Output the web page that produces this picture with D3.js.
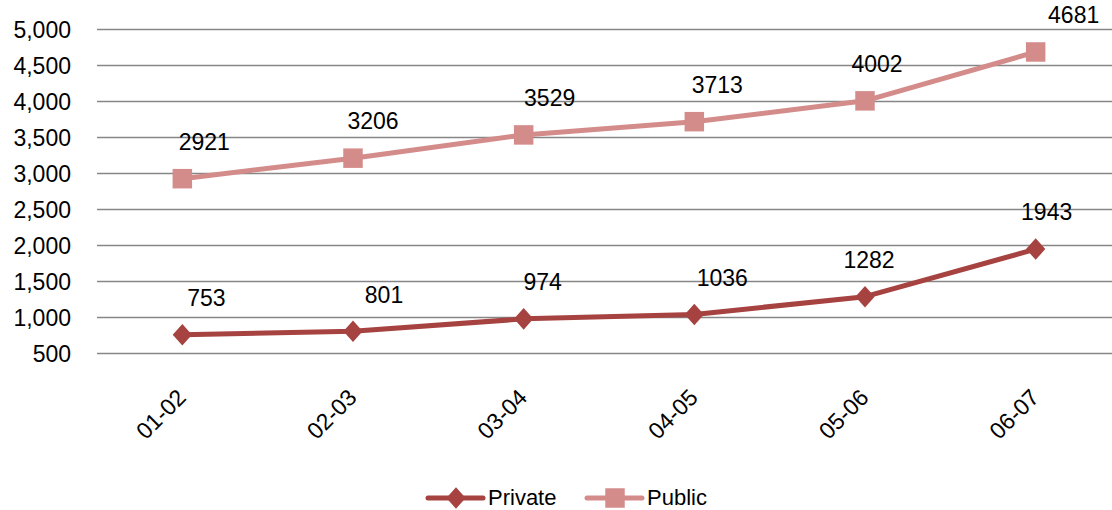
<!DOCTYPE html>
<html>
<head>
<meta charset="utf-8">
<script src="https://cdn.jsdelivr.net/npm/d3@7/dist/d3.min.js"></script>
<style>
  html, body { margin: 0; padding: 0; background: #fff; }
  svg { display: block; }
  text { font-family: "Liberation Sans", Arial, sans-serif; fill: #000; }
</style>
</head>
<body>
<script>
// ---- data ----
const categories = ["01-02", "02-03", "03-04", "04-05", "05-06", "06-07"];
const privateValues = [753, 801, 974, 1036, 1282, 1943];
const publicValues = [2921, 3206, 3529, 3713, 4002, 4681];
const yTicks = [500, 1000, 1500, 2000, 2500, 3000, 3500, 4000, 4500, 5000];
const seriesNames = ["Private", "Public"];
// horizontal nudges of the value labels (pixels), as placed in the original
const privateLabelDx = [24, 31, 19, 28, 4, 11];
const publicLabelDx = [22, 20, 26, 23, 12, 38];

// ---- layout ----
const W = 1112, H = 510;
const fontSize = 23;
const colors = { Private: "#A64341", Public: "#D48C8B" };

const svg = d3.select("body").append("svg").attr("width", W).attr("height", H);

const x = d3.scaleBand().domain(categories).range([97, 1121]).padding(0);
const cx = d => x(d) + x.bandwidth() / 2;
const y = d3.scaleLinear().domain([500, 5000]).range([353, 29]);

// gridlines
svg.append("g").selectAll("line").data(yTicks).join("line")
  .attr("x1", 97).attr("x2", 1121)
  .attr("y1", d => Math.round(y(d)) + 0.5).attr("y2", d => Math.round(y(d)) + 0.5)
  .attr("stroke", "#868686").attr("stroke-width", 1.6);

// y axis labels
const yAxis = d3.axisLeft(y).tickValues(yTicks).tickFormat(d3.format(",")).tickSize(0).tickPadding(0);
const yg = svg.append("g").attr("transform", "translate(71,0)").call(yAxis);
yg.select(".domain").remove();
yg.selectAll("text").attr("font-size", fontSize).attr("font-family", "Liberation Sans, Arial, sans-serif")
  .attr("fill", "#000").attr("dy", "0.36em");

// x axis labels (rotated)
const xg = svg.append("g").attr("transform", "translate(0,353)");
xg.selectAll("text").data(categories).join("text")
  .attr("transform", d => `translate(${cx(d) + 5},46) rotate(-45)`)
  .attr("text-anchor", "end")
  .attr("font-size", fontSize)
  .text(d => d);

// marker shapes
const markerPath = {
  Private: d3.symbol().type(d3.symbolSquare).size(185)(),
  Public: d3.symbol().type(d3.symbolSquare).size(380)()
};
const markerTf = {
  Private: " scale(1,1.12) rotate(45)",
  Public: ""
};

// series
const series = [
  { name: "Private", values: privateValues, dx: privateLabelDx },
  { name: "Public", values: publicValues, dx: publicLabelDx }
];

const line = d3.line().x((d, i) => cx(categories[i])).y(d => y(d));

series.forEach(s => {
  const g = svg.append("g");
  g.append("path").datum(s.values)
    .attr("d", line)
    .attr("fill", "none")
    .attr("stroke", colors[s.name])
    .attr("stroke-width", 5)
    .attr("stroke-linejoin", "round")
    .attr("stroke-linecap", "round");
  g.selectAll("path.m").data(s.values).join("path").attr("class", "m")
    .attr("d", markerPath[s.name])
    .attr("transform", (d, i) => `translate(${cx(categories[i])},${y(d)})` + markerTf[s.name])
    .attr("fill", colors[s.name]);
  g.selectAll("text").data(s.values).join("text")
    .attr("x", (d, i) => cx(categories[i]) + s.dx[i])
    .attr("y", d => y(d) - 37)
    .attr("dy", "0.36em")
    .attr("text-anchor", "middle")
    .attr("font-size", fontSize)
    .text(d => d);
});

// legend
const legendItems = [
  { name: "Private", x0: 428 },
  { name: "Public", x0: 587 }
];
const lg = svg.append("g").attr("transform", "translate(0,498)");
legendItems.forEach(it => {
  lg.append("line").attr("x1", it.x0).attr("x2", it.x0 + 55).attr("y1", 0).attr("y2", 0)
    .attr("stroke", colors[it.name]).attr("stroke-width", 5).attr("stroke-linecap", "round");
  lg.append("path").attr("d", markerPath[it.name])
    .attr("transform", `translate(${it.x0 + 28},0)` + markerTf[it.name])
    .attr("fill", colors[it.name]);
  lg.append("text").attr("x", it.x0 + 60).attr("y", 0).attr("dy", "0.33em")
    .attr("font-size", 22).text(it.name);
});
</script>
</body>
</html>
